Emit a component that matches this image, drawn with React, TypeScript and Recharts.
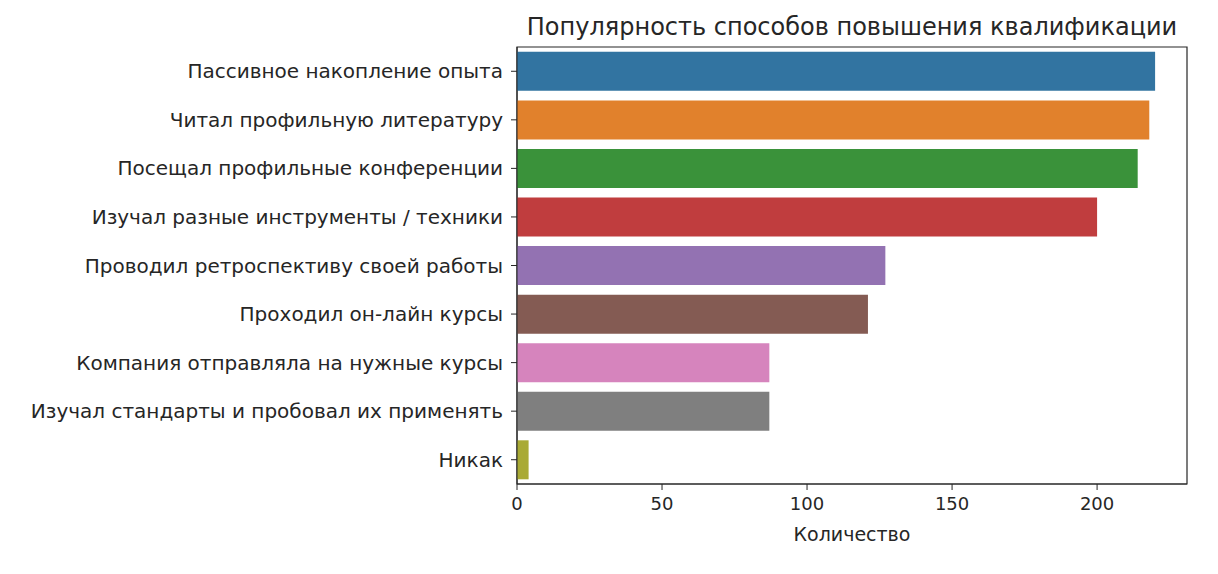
import React from 'react';
import { BarChart, Bar, XAxis, YAxis, Cell, ReferenceArea } from 'recharts';

const categories = [
  'Пассивное накопление опыта',
  'Читал профильную литературу',
  'Посещал профильные конференции',
  'Изучал разные инструменты / техники',
  'Проводил ретроспективу своей работы',
  'Проходил он-лайн курсы',
  'Компания отправляла на нужные курсы',
  'Изучал стандарты и пробовал их применять',
  'Никак',
];
const counts = [220, 218, 214, 200, 127, 121, 87, 87, 4];
const xTicks = [0, 50, 100, 150, 200];
const xMax = 231;
const colors = ['#3274a1', '#e1812c', '#3a923a', '#c03d3e', '#9372b2', '#845b53', '#d684bd', '#7f7f7f', '#a9aa35'];

const data = categories.map((name, i) => ({ name, value: counts[i] }));

const font = '"DejaVu Sans", sans-serif';
const ink = '#262626';

export default function App() {
  return (
    <div style={{ position: 'absolute', left: 0, top: 0, width: 1218, height: 574, background: '#fff', fontFamily: font }}>
      <div
        style={{
          position: 'absolute',
          left: 517,
          width: 670,
          top: 12,
          textAlign: 'center',
          fontSize: 24,
          lineHeight: '30px',
          color: ink,
          whiteSpace: 'nowrap',
        }}
      >
        Популярность способов повышения квалификации
      </div>
      <BarChart
        width={1218}
        height={574}
        data={data}
        layout="vertical"
        margin={{ top: 47, right: 31, bottom: 30, left: 0 }}
        barCategoryGap="10%"
      >
        <XAxis
          type="number"
          dataKey="value"
          domain={[0, xMax]}
          ticks={xTicks}
          allowDataOverflow
          height={60}
          stroke={ink}
          tickSize={6}
          tickMargin={7}
          tick={{ fill: ink, fontSize: 18, fontFamily: font }}
          label={{ value: 'Количество', position: 'insideBottom', offset: 3, fill: ink, fontSize: 19, fontFamily: font }}
        />
        <YAxis
          type="category"
          dataKey="name"
          width={517}
          stroke={ink}
          tickSize={6}
          tickMargin={8}
          interval={0}
          tick={{ fill: ink, fontSize: 20, fontFamily: font }}
        />
        <Bar dataKey="value" isAnimationActive={false}>
          {data.map((d, i) => (
            <Cell key={d.name} fill={colors[i]} />
          ))}
        </Bar>
        <ReferenceArea x1={0} x2={xMax} fill="none" stroke={ink} strokeWidth={1.2} ifOverflow="visible" />
      </BarChart>
    </div>
  );
}
